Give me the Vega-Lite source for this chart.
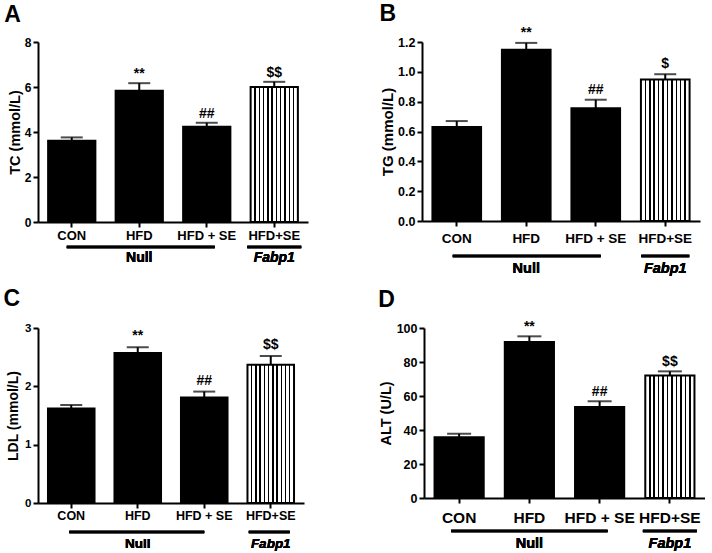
{
  "$schema": "https://vega.github.io/schema/vega-lite/v6.json",
  "padding": {"left": 3, "top": 2, "right": 0, "bottom": 0},
  "background": "white",
  "config": {
    "view": {"stroke": null},
    "font": "Liberation Sans",
    "axis": {
      "domainColor": "black", "domainWidth": 2, "tickColor": "black", "tickWidth": 2, "tickSize": 5,
      "labelColor": "black", "labelFontWeight": "bold", "labelFont": "Liberation Sans",
      "titleColor": "black", "titleFontWeight": "bold", "titleFont": "Liberation Sans", "grid": false
    },
    "title": {"fontSize": 23, "fontWeight": "bold", "anchor": "start", "frame": "bounds", "color": "black", "font": "Liberation Sans"}
  },
  "datasets": {
    "tc": [
      {"group": "CON", "mean": 3.61, "top": 3.76, "sig": ""},
      {"group": "HFD", "mean": 5.83, "top": 6.17, "sig": "**"},
      {"group": "HFD + SE", "mean": 4.23, "top": 4.41, "sig": "##"},
      {"group": "HFD+SE", "mean": 6.0, "top": 6.23, "sig": "$$"}
    ],
    "tg": [
      {"group": "CON", "mean": 0.631, "top": 0.67, "sig": ""},
      {"group": "HFD", "mean": 1.148, "top": 1.194, "sig": "**"},
      {"group": "HFD + SE", "mean": 0.756, "top": 0.813, "sig": "##"},
      {"group": "HFD+SE", "mean": 0.948, "top": 0.984, "sig": "$"}
    ],
    "ldl": [
      {"group": "CON", "mean": 1.62, "top": 1.68, "sig": ""},
      {"group": "HFD", "mean": 2.57, "top": 2.67, "sig": "**"},
      {"group": "HFD + SE", "mean": 1.81, "top": 1.91, "sig": "##"},
      {"group": "HFD+SE", "mean": 2.37, "top": 2.52, "sig": "$$"}
    ],
    "alt": [
      {"group": "CON", "mean": 35.7, "top": 37.8, "sig": ""},
      {"group": "HFD", "mean": 91.8, "top": 95.1, "sig": "**"},
      {"group": "HFD + SE", "mean": 53.5, "top": 56.9, "sig": "##"},
      {"group": "HFD+SE", "mean": 72.0, "top": 74.5, "sig": "$$"}
    ]
  },
  "spacing": 12,
  "vconcat": [
    {
      "spacing": 71,
      "hconcat": [
        {
          "width": 270, "height": 180,
          "title": {"text": "A", "offset": 9, "dx": -3},
          "data": {"name": "tc"},
          "encoding": {
            "x": {"field": "group", "type": "nominal", "title": null,
                  "scale": {"domain": ["CON", "HFD", "HFD + SE", "HFD+SE"], "paddingInner": 0.3, "paddingOuter": 0.15},
                  "axis": {"labelAngle": 0, "labelFontSize": 13, "labelPadding": 2}},
            "y": {"field": "mean", "type": "quantitative", "title": "TC (mmol/L)",
                  "scale": {"domain": [0, 8], "nice": false},
                  "axis": {"values": [0, 2, 4, 6, 8], "labelFontSize": 12, "titleFontSize": 14.5, "titlePadding": 2, "labelPadding": 2}}
          },
          "layer": [
            {"transform": [{"filter": "datum.group !== 'HFD+SE'"}],
             "mark": {"type": "bar", "fill": "black", "stroke": "black", "strokeWidth": 2}},
            {"transform": [{"filter": "datum.group === 'HFD+SE'"}],
             "mark": {"type": "bar", "stroke": "black", "strokeWidth": 2,
                      "fill": {"gradient": "linear", "x1": 0, "x2": 1, "y1": 0, "y2": 0, "stops": [
                        {"offset": 0, "color": "white"},
                        {"offset": 0.076, "color": "white"}, {"offset": 0.076, "color": "black"}, {"offset": 0.106, "color": "black"}, {"offset": 0.106, "color": "white"},
                        {"offset": 0.167, "color": "white"}, {"offset": 0.167, "color": "black"}, {"offset": 0.197, "color": "black"}, {"offset": 0.197, "color": "white"},
                        {"offset": 0.258, "color": "white"}, {"offset": 0.258, "color": "black"}, {"offset": 0.288, "color": "black"}, {"offset": 0.288, "color": "white"},
                        {"offset": 0.349, "color": "white"}, {"offset": 0.349, "color": "black"}, {"offset": 0.379, "color": "black"}, {"offset": 0.379, "color": "white"},
                        {"offset": 0.440, "color": "white"}, {"offset": 0.440, "color": "black"}, {"offset": 0.470, "color": "black"}, {"offset": 0.470, "color": "white"},
                        {"offset": 0.530, "color": "white"}, {"offset": 0.530, "color": "black"}, {"offset": 0.560, "color": "black"}, {"offset": 0.560, "color": "white"},
                        {"offset": 0.621, "color": "white"}, {"offset": 0.621, "color": "black"}, {"offset": 0.651, "color": "black"}, {"offset": 0.651, "color": "white"},
                        {"offset": 0.712, "color": "white"}, {"offset": 0.712, "color": "black"}, {"offset": 0.742, "color": "black"}, {"offset": 0.742, "color": "white"},
                        {"offset": 0.803, "color": "white"}, {"offset": 0.803, "color": "black"}, {"offset": 0.833, "color": "black"}, {"offset": 0.833, "color": "white"},
                        {"offset": 0.894, "color": "white"}, {"offset": 0.894, "color": "black"}, {"offset": 0.924, "color": "black"}, {"offset": 0.924, "color": "white"},
                        {"offset": 1, "color": "white"}]}}},
            {"mark": {"type": "rule", "color": "black", "strokeWidth": 2},
             "encoding": {"y2": {"field": "top"}}},
            {"mark": {"type": "tick", "color": "black", "thickness": 2, "size": 22},
             "encoding": {"y": {"field": "top", "type": "quantitative", "title": "TC (mmol/L)"}}},
            {"mark": {"type": "text", "fontWeight": "bold", "fontSize": 14, "baseline": "alphabetic", "dy": -5, "color": "black"},
             "encoding": {"y": {"field": "top", "type": "quantitative", "title": "TC (mmol/L)"}, "text": {"field": "sig"}}},
            {"mark": {"type": "rule", "color": "black", "strokeWidth": 2.5, "yOffset": 25, "xOffset": -5, "x2Offset": 8},
             "encoding": {"x": {"datum": "CON"}, "x2": {"datum": "HFD + SE"}, "y": {"datum": 0, "type": "quantitative"}}},
            {"mark": {"type": "rule", "color": "black", "strokeWidth": 2.5, "yOffset": 25, "xOffset": -27, "x2Offset": 27},
             "encoding": {"x": {"datum": "HFD+SE"}, "x2": {"datum": "HFD+SE"}, "y": {"datum": 0, "type": "quantitative"}}},
            {"mark": {"type": "text", "text": "Null", "fontWeight": "bold", "fontSize": 14, "baseline": "alphabetic", "dy": 40, "color": "black"},
             "encoding": {"x": {"datum": "HFD"}, "y": {"datum": 0, "type": "quantitative"}}},
            {"mark": {"type": "text", "text": "Fabp1", "fontWeight": "bold", "fontStyle": "italic", "fontSize": 14, "baseline": "alphabetic", "dy": 40, "color": "black"},
             "encoding": {"x": {"datum": "HFD+SE"}, "y": {"datum": 0, "type": "quantitative"}}}
          ]
        },
        {
          "width": 278, "height": 179,
          "title": {"text": "B", "offset": 0, "dx": -1},
          "data": {"name": "tg"},
          "encoding": {
            "x": {"field": "group", "type": "nominal", "title": null,
                  "scale": {"domain": ["CON", "HFD", "HFD + SE", "HFD+SE"], "paddingInner": 0.3, "paddingOuter": 0.15},
                  "axis": {"labelAngle": 0, "labelFontSize": 13.5, "labelPadding": 5}},
            "y": {"field": "mean", "type": "quantitative", "title": "TG (mmol/L)",
                  "scale": {"domain": [0, 1.2], "nice": false},
                  "axis": {"values": [0, 0.2, 0.4, 0.6, 0.8, 1.0, 1.2], "format": ".1f", "labelFontSize": 12.5, "titleFontSize": 15, "titlePadding": 2, "labelPadding": 2}}
          },
          "layer": [
            {"transform": [{"filter": "datum.group !== 'HFD+SE'"}],
             "mark": {"type": "bar", "fill": "black", "stroke": "black", "strokeWidth": 2}},
            {"transform": [{"filter": "datum.group === 'HFD+SE'"}],
             "mark": {"type": "bar", "stroke": "black", "strokeWidth": 2,
                      "fill": {"gradient": "linear", "x1": 0, "x2": 1, "y1": 0, "y2": 0, "stops": [
                        {"offset": 0, "color": "white"},
                        {"offset": 0.076, "color": "white"}, {"offset": 0.076, "color": "black"}, {"offset": 0.106, "color": "black"}, {"offset": 0.106, "color": "white"},
                        {"offset": 0.167, "color": "white"}, {"offset": 0.167, "color": "black"}, {"offset": 0.197, "color": "black"}, {"offset": 0.197, "color": "white"},
                        {"offset": 0.258, "color": "white"}, {"offset": 0.258, "color": "black"}, {"offset": 0.288, "color": "black"}, {"offset": 0.288, "color": "white"},
                        {"offset": 0.349, "color": "white"}, {"offset": 0.349, "color": "black"}, {"offset": 0.379, "color": "black"}, {"offset": 0.379, "color": "white"},
                        {"offset": 0.440, "color": "white"}, {"offset": 0.440, "color": "black"}, {"offset": 0.470, "color": "black"}, {"offset": 0.470, "color": "white"},
                        {"offset": 0.530, "color": "white"}, {"offset": 0.530, "color": "black"}, {"offset": 0.560, "color": "black"}, {"offset": 0.560, "color": "white"},
                        {"offset": 0.621, "color": "white"}, {"offset": 0.621, "color": "black"}, {"offset": 0.651, "color": "black"}, {"offset": 0.651, "color": "white"},
                        {"offset": 0.712, "color": "white"}, {"offset": 0.712, "color": "black"}, {"offset": 0.742, "color": "black"}, {"offset": 0.742, "color": "white"},
                        {"offset": 0.803, "color": "white"}, {"offset": 0.803, "color": "black"}, {"offset": 0.833, "color": "black"}, {"offset": 0.833, "color": "white"},
                        {"offset": 0.894, "color": "white"}, {"offset": 0.894, "color": "black"}, {"offset": 0.924, "color": "black"}, {"offset": 0.924, "color": "white"},
                        {"offset": 1, "color": "white"}]}}},
            {"mark": {"type": "rule", "color": "black", "strokeWidth": 2},
             "encoding": {"y2": {"field": "top"}}},
            {"mark": {"type": "tick", "color": "black", "thickness": 2, "size": 22},
             "encoding": {"y": {"field": "top", "type": "quantitative", "title": "TG (mmol/L)"}}},
            {"mark": {"type": "text", "fontWeight": "bold", "fontSize": 14, "baseline": "alphabetic", "dy": -6, "color": "black"},
             "encoding": {"y": {"field": "top", "type": "quantitative", "title": "TG (mmol/L)"}, "text": {"field": "sig"}}},
            {"mark": {"type": "rule", "color": "black", "strokeWidth": 2.5, "yOffset": 35, "xOffset": -4, "x2Offset": 5},
             "encoding": {"x": {"datum": "CON"}, "x2": {"datum": "HFD + SE"}, "y": {"datum": 0, "type": "quantitative"}}},
            {"mark": {"type": "rule", "color": "black", "strokeWidth": 2.5, "yOffset": 35, "xOffset": -24, "x2Offset": 24},
             "encoding": {"x": {"datum": "HFD+SE"}, "x2": {"datum": "HFD+SE"}, "y": {"datum": 0, "type": "quantitative"}}},
            {"mark": {"type": "text", "text": "Null", "fontWeight": "bold", "fontSize": 14.5, "baseline": "alphabetic", "dy": 52, "color": "black"},
             "encoding": {"x": {"datum": "HFD"}, "y": {"datum": 0, "type": "quantitative"}}},
            {"mark": {"type": "text", "text": "Fabp1", "fontWeight": "bold", "fontStyle": "italic", "fontSize": 14.5, "baseline": "alphabetic", "dy": 52, "color": "black"},
             "encoding": {"x": {"datum": "HFD+SE"}, "y": {"datum": 0, "type": "quantitative"}}}
          ]
        }
      ]
    },
    {
      "spacing": 74,
      "hconcat": [
        {
          "width": 266, "height": 175,
          "title": {"text": "C", "offset": 11, "dx": -3},
          "data": {"name": "ldl"},
          "encoding": {
            "x": {"field": "group", "type": "nominal", "title": null,
                  "scale": {"domain": ["CON", "HFD", "HFD + SE", "HFD+SE"], "paddingInner": 0.3, "paddingOuter": 0.15},
                  "axis": {"labelAngle": 0, "labelFontSize": 12.5, "labelPadding": 1}},
            "y": {"field": "mean", "type": "quantitative", "title": "LDL (mmol/L)",
                  "scale": {"domain": [0, 3], "nice": false},
                  "axis": {"values": [0, 1, 2, 3], "labelFontSize": 11.5, "titleFontSize": 14, "titlePadding": 4, "labelPadding": 2}}
          },
          "layer": [
            {"transform": [{"filter": "datum.group !== 'HFD+SE'"}],
             "mark": {"type": "bar", "fill": "black", "stroke": "black", "strokeWidth": 2}},
            {"transform": [{"filter": "datum.group === 'HFD+SE'"}],
             "mark": {"type": "bar", "stroke": "black", "strokeWidth": 2,
                      "fill": {"gradient": "linear", "x1": 0, "x2": 1, "y1": 0, "y2": 0, "stops": [
                        {"offset": 0, "color": "white"},
                        {"offset": 0.076, "color": "white"}, {"offset": 0.076, "color": "black"}, {"offset": 0.106, "color": "black"}, {"offset": 0.106, "color": "white"},
                        {"offset": 0.167, "color": "white"}, {"offset": 0.167, "color": "black"}, {"offset": 0.197, "color": "black"}, {"offset": 0.197, "color": "white"},
                        {"offset": 0.258, "color": "white"}, {"offset": 0.258, "color": "black"}, {"offset": 0.288, "color": "black"}, {"offset": 0.288, "color": "white"},
                        {"offset": 0.349, "color": "white"}, {"offset": 0.349, "color": "black"}, {"offset": 0.379, "color": "black"}, {"offset": 0.379, "color": "white"},
                        {"offset": 0.440, "color": "white"}, {"offset": 0.440, "color": "black"}, {"offset": 0.470, "color": "black"}, {"offset": 0.470, "color": "white"},
                        {"offset": 0.530, "color": "white"}, {"offset": 0.530, "color": "black"}, {"offset": 0.560, "color": "black"}, {"offset": 0.560, "color": "white"},
                        {"offset": 0.621, "color": "white"}, {"offset": 0.621, "color": "black"}, {"offset": 0.651, "color": "black"}, {"offset": 0.651, "color": "white"},
                        {"offset": 0.712, "color": "white"}, {"offset": 0.712, "color": "black"}, {"offset": 0.742, "color": "black"}, {"offset": 0.742, "color": "white"},
                        {"offset": 0.803, "color": "white"}, {"offset": 0.803, "color": "black"}, {"offset": 0.833, "color": "black"}, {"offset": 0.833, "color": "white"},
                        {"offset": 0.894, "color": "white"}, {"offset": 0.894, "color": "black"}, {"offset": 0.924, "color": "black"}, {"offset": 0.924, "color": "white"},
                        {"offset": 1, "color": "white"}]}}},
            {"mark": {"type": "rule", "color": "black", "strokeWidth": 2},
             "encoding": {"y2": {"field": "top"}}},
            {"mark": {"type": "tick", "color": "black", "thickness": 2, "size": 22},
             "encoding": {"y": {"field": "top", "type": "quantitative", "title": "LDL (mmol/L)"}}},
            {"mark": {"type": "text", "fontWeight": "bold", "fontSize": 14, "baseline": "alphabetic", "dy": -7, "color": "black"},
             "encoding": {"y": {"field": "top", "type": "quantitative", "title": "LDL (mmol/L)"}, "text": {"field": "sig"}}},
            {"mark": {"type": "rule", "color": "black", "strokeWidth": 2.5, "yOffset": 29, "xOffset": -2, "x2Offset": 0},
             "encoding": {"x": {"datum": "CON"}, "x2": {"datum": "HFD + SE"}, "y": {"datum": 0, "type": "quantitative"}}},
            {"mark": {"type": "rule", "color": "black", "strokeWidth": 2.5, "yOffset": 29, "xOffset": -22, "x2Offset": 19},
             "encoding": {"x": {"datum": "HFD+SE"}, "x2": {"datum": "HFD+SE"}, "y": {"datum": 0, "type": "quantitative"}}},
            {"mark": {"type": "text", "text": "Null", "fontWeight": "bold", "fontSize": 13.5, "baseline": "alphabetic", "dy": 45, "color": "black"},
             "encoding": {"x": {"datum": "HFD"}, "y": {"datum": 0, "type": "quantitative"}}},
            {"mark": {"type": "text", "text": "Fabp1", "fontWeight": "bold", "fontStyle": "italic", "fontSize": 13.5, "baseline": "alphabetic", "dy": 45, "color": "black"},
             "encoding": {"x": {"datum": "HFD+SE"}, "y": {"datum": 0, "type": "quantitative"}}}
          ]
        },
        {
          "width": 281, "height": 170,
          "title": {"text": "D", "offset": 8, "dx": 0},
          "data": {"name": "alt"},
          "encoding": {
            "x": {"field": "group", "type": "nominal", "title": null,
                  "scale": {"domain": ["CON", "HFD", "HFD + SE", "HFD+SE"], "paddingInner": 0.3, "paddingOuter": 0.15},
                  "axis": {"labelAngle": 0, "labelFontSize": 15.5, "labelPadding": 7}},
            "y": {"field": "mean", "type": "quantitative", "title": "ALT (U/L)",
                  "scale": {"domain": [0, 100], "nice": false},
                  "axis": {"values": [0, 20, 40, 60, 80, 100], "labelFontSize": 12.5, "titleFontSize": 14.5, "titlePadding": 3, "labelPadding": 2}}
          },
          "layer": [
            {"transform": [{"filter": "datum.group !== 'HFD+SE'"}],
             "mark": {"type": "bar", "fill": "black", "stroke": "black", "strokeWidth": 2}},
            {"transform": [{"filter": "datum.group === 'HFD+SE'"}],
             "mark": {"type": "bar", "stroke": "black", "strokeWidth": 2,
                      "fill": {"gradient": "linear", "x1": 0, "x2": 1, "y1": 0, "y2": 0, "stops": [
                        {"offset": 0, "color": "white"},
                        {"offset": 0.076, "color": "white"}, {"offset": 0.076, "color": "black"}, {"offset": 0.106, "color": "black"}, {"offset": 0.106, "color": "white"},
                        {"offset": 0.167, "color": "white"}, {"offset": 0.167, "color": "black"}, {"offset": 0.197, "color": "black"}, {"offset": 0.197, "color": "white"},
                        {"offset": 0.258, "color": "white"}, {"offset": 0.258, "color": "black"}, {"offset": 0.288, "color": "black"}, {"offset": 0.288, "color": "white"},
                        {"offset": 0.349, "color": "white"}, {"offset": 0.349, "color": "black"}, {"offset": 0.379, "color": "black"}, {"offset": 0.379, "color": "white"},
                        {"offset": 0.440, "color": "white"}, {"offset": 0.440, "color": "black"}, {"offset": 0.470, "color": "black"}, {"offset": 0.470, "color": "white"},
                        {"offset": 0.530, "color": "white"}, {"offset": 0.530, "color": "black"}, {"offset": 0.560, "color": "black"}, {"offset": 0.560, "color": "white"},
                        {"offset": 0.621, "color": "white"}, {"offset": 0.621, "color": "black"}, {"offset": 0.651, "color": "black"}, {"offset": 0.651, "color": "white"},
                        {"offset": 0.712, "color": "white"}, {"offset": 0.712, "color": "black"}, {"offset": 0.742, "color": "black"}, {"offset": 0.742, "color": "white"},
                        {"offset": 0.803, "color": "white"}, {"offset": 0.803, "color": "black"}, {"offset": 0.833, "color": "black"}, {"offset": 0.833, "color": "white"},
                        {"offset": 0.894, "color": "white"}, {"offset": 0.894, "color": "black"}, {"offset": 0.924, "color": "black"}, {"offset": 0.924, "color": "white"},
                        {"offset": 1, "color": "white"}]}}},
            {"mark": {"type": "rule", "color": "black", "strokeWidth": 2},
             "encoding": {"y2": {"field": "top"}}},
            {"mark": {"type": "tick", "color": "black", "thickness": 2, "size": 24},
             "encoding": {"y": {"field": "top", "type": "quantitative", "title": "ALT (U/L)"}}},
            {"mark": {"type": "text", "fontWeight": "bold", "fontSize": 14, "baseline": "alphabetic", "dy": -5, "color": "black"},
             "encoding": {"y": {"field": "top", "type": "quantitative", "title": "ALT (U/L)"}, "text": {"field": "sig"}}},
            {"mark": {"type": "rule", "color": "black", "strokeWidth": 2.5, "yOffset": 33, "xOffset": -8, "x2Offset": 8},
             "encoding": {"x": {"datum": "CON"}, "x2": {"datum": "HFD + SE"}, "y": {"datum": 0, "type": "quantitative"}}},
            {"mark": {"type": "rule", "color": "black", "strokeWidth": 2.5, "yOffset": 33, "xOffset": -27, "x2Offset": 27},
             "encoding": {"x": {"datum": "HFD+SE"}, "x2": {"datum": "HFD+SE"}, "y": {"datum": 0, "type": "quantitative"}}},
            {"mark": {"type": "text", "text": "Null", "fontWeight": "bold", "fontSize": 14.5, "baseline": "alphabetic", "dy": 50, "color": "black"},
             "encoding": {"x": {"datum": "HFD"}, "y": {"datum": 0, "type": "quantitative"}}},
            {"mark": {"type": "text", "text": "Fabp1", "fontWeight": "bold", "fontStyle": "italic", "fontSize": 14.5, "baseline": "alphabetic", "dy": 50, "color": "black"},
             "encoding": {"x": {"datum": "HFD+SE"}, "y": {"datum": 0, "type": "quantitative"}}}
          ]
        }
      ]
    }
  ]
}
